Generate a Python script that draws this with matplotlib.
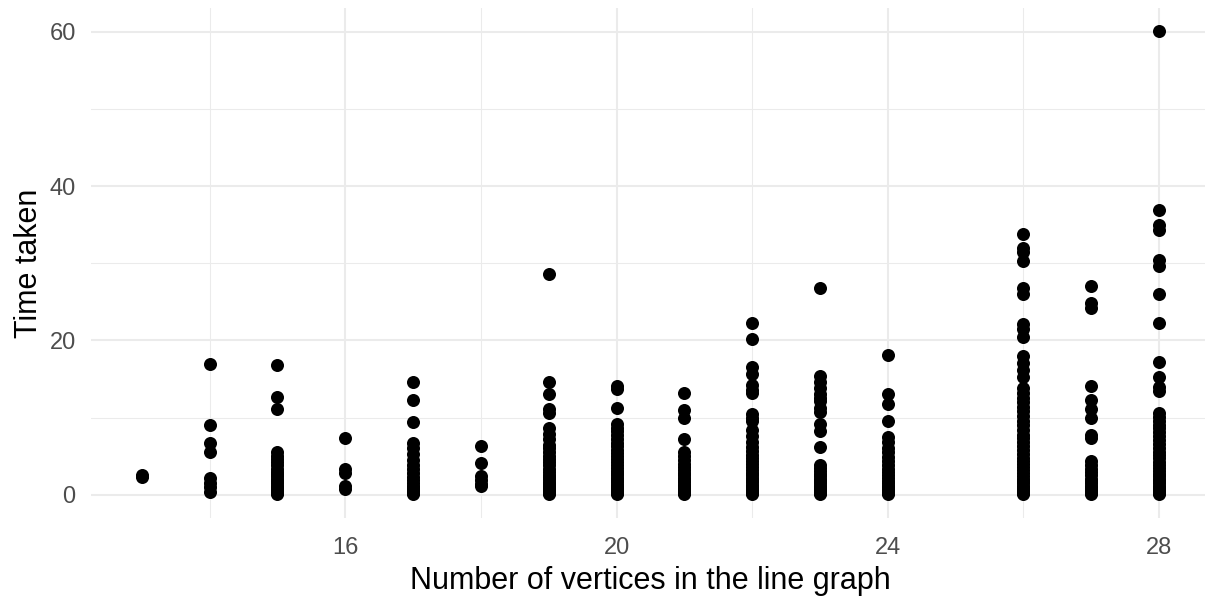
"""Time taken vs number of vertices in the line graph (ggplot-minimal look)."""
import matplotlib; matplotlib.use("Agg")
import matplotlib.pyplot as plt

# values read per vertex count
t13 = [2.3, 2.6]
t14 = [16.9, 9.1, 6.7, 5.5, 2.2, 1.5, 1.0, 0.4]
t15 = [16.8, 12.7, 11.1, 5.5, 5.0, 4.6, 4.2, 3.8, 3.4, 3.0, 2.7, 2.4, 2.1, 1.8,
       1.5, 1.2, 1.0, 0.8, 0.6, 0.4, 0.3, 0.2, 0.1]
t16 = [7.3, 3.4, 2.8, 1.2, 0.7]
t17 = [14.6, 12.3, 9.4, 6.7, 6.0, 5.3, 4.5, 3.9, 3.3, 2.8, 2.3, 1.9, 1.5, 1.2,
       0.9, 0.7, 0.5, 0.3, 0.2, 0.1]
t18 = [6.3, 4.1, 2.4, 1.9, 1.4, 1.1]
t19 = [28.6, 14.6, 13.1, 11.1, 10.6, 8.7, 7.9, 7.2, 6.5, 6.0, 5.5, 5.0, 4.6, 4.2,
       3.8, 3.4, 3.0, 2.6, 2.3, 2.0, 1.7, 1.4, 1.1, 0.9, 0.7, 0.5, 0.3, 0.2, 0.1]
t20 = [14.1, 13.7, 11.2, 9.2, 8.7, 8.2, 7.7, 7.2, 6.7, 6.3, 5.8, 5.4, 5.0, 4.6,
       4.2, 3.8, 3.5, 3.1, 2.8, 2.5, 2.2, 1.9, 1.6, 1.3, 1.1, 0.9, 0.7, 0.5, 0.4,
       0.3, 0.2, 0.1]
t21 = [13.2, 11.0, 10.0, 7.2, 5.6, 5.0, 4.5, 4.0, 3.6, 3.2, 2.8, 2.5, 2.2, 1.9,
       1.6, 1.3, 1.1, 0.9, 0.7, 0.5, 0.3, 0.2, 0.1]
t22 = [22.2, 20.2, 16.5, 15.7, 14.2, 13.6, 13.2, 10.5, 10.0, 9.5, 8.4, 7.6, 6.9,
       6.2, 5.7, 5.2, 4.8, 4.4, 4.0, 3.6, 3.2, 2.8, 2.5, 2.2, 1.9, 1.6, 1.3, 1.0,
       0.8, 0.6, 0.4, 0.3, 0.2, 0.1]
t23 = [26.8, 15.4, 14.6, 13.8, 13.1, 12.6, 12.1, 11.2, 10.7, 9.2, 8.2, 6.2, 3.9,
       3.5, 3.1, 2.7, 2.4, 2.1, 1.8, 1.5, 1.2, 1.0, 0.8, 0.6, 0.4, 0.3, 0.2, 0.1]
t24 = [18.1, 13.1, 11.7, 9.5, 7.5, 6.8, 6.1, 5.5, 4.9, 4.4, 3.9, 3.4, 3.0, 2.6,
       2.2, 1.8, 1.5, 1.2, 1.0, 0.8, 0.6, 0.4, 0.3, 0.2, 0.1]
t26 = [33.8, 32.0, 31.4, 30.3, 26.8, 26.0, 22.1, 21.5, 20.4, 18.0, 17.1, 16.2,
       15.2, 13.8, 13.2, 12.6, 12.0, 11.4, 10.8, 10.2, 9.6, 9.0, 8.4, 7.8, 7.3,
       6.8, 6.3, 5.8, 5.3, 4.8, 4.4, 4.0, 3.6, 3.2, 2.8, 2.4, 2.1, 1.8, 1.5, 1.2,
       0.9, 0.7, 0.5, 0.3, 0.2, 0.1]
t27 = [27.0, 24.9, 24.2, 14.1, 12.3, 11.1, 10.0, 7.8, 7.3, 4.4, 3.8, 3.3, 2.9,
       2.5, 2.1, 1.8, 1.5, 1.2, 0.9, 0.7, 0.5, 0.3, 0.2, 0.1]
t28 = [60.1, 36.9, 35.0, 34.3, 30.4, 29.7, 26.0, 22.3, 17.2, 15.3, 14.0, 13.4,
       10.6, 10.1, 9.6, 9.1, 8.6, 8.1, 7.6, 7.1, 6.6, 6.1, 5.6, 5.1, 4.7, 4.3,
       3.9, 3.5, 3.1, 2.7, 2.4, 2.1, 1.8, 1.5, 1.2, 0.9, 0.7, 0.5, 0.3, 0.2, 0.1]

vertices = [13, 14, 15, 16, 17, 18, 19, 20, 21, 22, 23, 24, 26, 27, 28]
times = [t13, t14, t15, t16, t17, t18, t19, t20, t21, t22, t23, t24, t26, t27, t28]

xs = [v for v, ts in zip(vertices, times) for _ in ts]
ys = [t for ts in times for t in ts]

plt.rcParams["font.family"] = ["Liberation Sans", "DejaVu Sans"]
fig = plt.figure(figsize=(12.05, 5.96), dpi=100)
ax = fig.add_axes([0.0755, 0.131, 0.9286, 0.856])

ax.scatter(xs, ys, s=88, c="black", linewidths=0, zorder=3)

ax.set_xlim(12.25, 28.75); ax.set_ylim(-3, 63.1)
ax.set_xticks([16, 20, 24, 28]); ax.set_xticks([14, 18, 22, 26], minor=True)
ax.set_yticks([0, 20, 40, 60]); ax.set_yticks([10, 30, 50], minor=True)
ax.grid(which="major", color="#EBEBEB", lw=1.45, zorder=0)
ax.grid(which="minor", color="#EBEBEB", lw=0.75, zorder=0)
for s in ax.spines.values(): s.set_visible(False)
ax.tick_params(which="both", length=0)
ax.tick_params(axis="x", labelsize=17, labelcolor="#4D4D4D", pad=14)
ax.tick_params(axis="y", labelsize=17, labelcolor="#4D4D4D", pad=11)
ax.set_xlabel("Number of vertices in the line graph", fontsize=22, labelpad=5)
ax.set_ylabel("Time taken", fontsize=22, labelpad=4)

fig.savefig("out.png", dpi=100)
